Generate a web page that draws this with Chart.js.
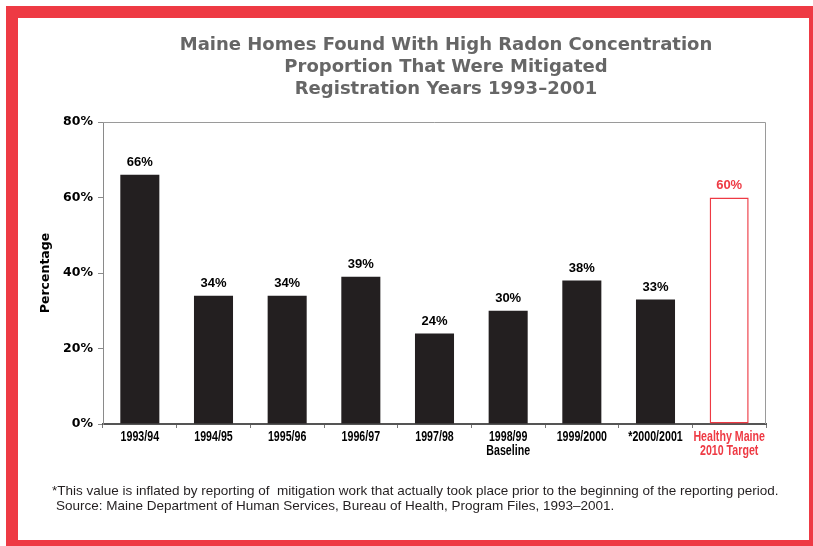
<!DOCTYPE html>
<html>
<head>
<meta charset="utf-8">
<script src="https://cdn.jsdelivr.net/npm/chart.js@4.4.0/dist/chart.umd.min.js"></script>
<style>
html, body { margin:0; padding:0; background:#fff; overflow:hidden; width:813px; height:546px; }
#frame { position:absolute; left:6px; top:6px; width:791px; height:522px; border:12px solid #ee3a44; }
#chart1 { position:absolute; left:0; top:0; }
</style>
</head>
<body>
<div id="frame"></div>
<canvas id="chart1" width="813" height="546"></canvas>
<script>

var years = ['1993/94','1994/95','1995/96','1996/97','1997/98',['1998/99','Baseline'],'1999/2000','*2000/2001'];
var pctMitigated = [66,34,34,39,24,30,38,33];
var targetLabel = ['Healthy Maine','2010 Target'];
var targetPct = 60;
var yTicks = [0,20,40,60,80];

var titleLines = ['Maine Homes Found With High Radon Concentration','Proportion That Were Mitigated','Registration Years 1993\u20132001'];
var noteLines = ['*This value is inflated by reporting of  mitigation work that actually took place prior to the beginning of the reporting period.',
	'Source: Maine Department of Human Services, Bureau of Health, Program Files, 1993\u20132001.'];

var red='#ee3a44';
var barBlack='#231f20';

var labels = years.concat([targetLabel]);
var values = pctMitigated.concat([targetPct]);
var lastIdx = values.length-1;

function isTarget(i) { return i==lastIdx; }

// title + footnote, drawn straight on the canvas
var textPlugin = {
	id: 'texts',
	afterDraw: function(chart) {
		var ctx=chart.ctx;
		ctx.save();
		ctx.fillStyle='#666666';
		ctx.font='bold 18px "DejaVu Sans", sans-serif';
		ctx.textAlign='center';
		ctx.textBaseline='middle';
		for (var i=0;i<titleLines.length;i++) {
			ctx.fillText(titleLines[i],446,45+i*22);
		}
		ctx.fillStyle=barBlack;
		ctx.font='13.5px "Liberation Sans", Arial, sans-serif';
		ctx.textAlign='left';
		ctx.fillText(noteLines[0],52,491);
		ctx.fillText(noteLines[1],56,506);
		ctx.restore();
	}
};

// category labels under the x axis, squeezed like a narrow face
var xLabelPlugin = {
	id: 'xLabels',
	afterDraw: function(chart) {
		var ctx=chart.ctx, xs=chart.scales.x;
		ctx.save();
		ctx.font='bold 14px "Liberation Sans", Arial, sans-serif';
		ctx.textAlign='center';
		ctx.textBaseline='middle';
		labels.forEach(function(lab,i) {
			var lines = Array.isArray(lab) ? lab : [lab];
			var x = xs.getPixelForValue(i);
			ctx.fillStyle = isTarget(i) ? red : '#000';
			for (var k=0;k<lines.length;k++) {
				ctx.save();
				ctx.translate(x, xs.top+13+k*14);
				ctx.scale(0.76,1);
				ctx.fillText(lines[k],0,0);
				ctx.restore();
			}
		});
		ctx.restore();
	}
};

// value above each bar + top/right edges of the plot box
var barLabelPlugin = {
	id: 'barLabels',
	beforeDatasetsDraw: function(chart) {
		var a=chart.chartArea, ctx=chart.ctx;
		ctx.save();
		ctx.strokeStyle='#9a9a9a';
		ctx.lineWidth=1;
		ctx.beginPath();
		ctx.moveTo(a.left,a.top+0.5);
		ctx.lineTo(a.right-0.5,a.top+0.5);
		ctx.lineTo(a.right-0.5,a.bottom);
		ctx.stroke();
		ctx.restore();
	},
	afterDatasetsDraw: function(chart) {
		var ctx=chart.ctx;
		var meta=chart.getDatasetMeta(0);
		ctx.save();
		ctx.font='bold 13px "Liberation Sans", Arial, sans-serif';
		ctx.textAlign='center';
		ctx.textBaseline='middle';
		meta.data.forEach(function(bar,i) {
			ctx.fillStyle = isTarget(i) ? red : '#000';
			ctx.fillText(values[i]+'%',bar.x,bar.y-12);
		});
		ctx.restore();
	}
};

var chart = new Chart(document.getElementById('chart1'), {
	type: 'bar',
	data: {
		labels: labels,
		datasets: [{
			data: values,
			backgroundColor: values.map(function(v,i){ return isTarget(i) ? '#ffffff' : barBlack; }),
			borderColor: values.map(function(v,i){ return isTarget(i) ? red : barBlack; }),
			borderWidth: values.map(function(v,i){ return isTarget(i) ? 1.5 : 0; }),
			borderSkipped: false,
			categoryPercentage: 1,
			barPercentage: 0.53
		}]
	},
	options: {
		responsive: false,
		animation: false,
		layout: { padding: { left:0, top:122, right:47, bottom:72 } },
		plugins: { legend: { display:false }, tooltip: { enabled:false } },
		scales: {
			x: {
				afterFit: function(s) { s.height=50; },
				grid: { drawOnChartArea:false, offset:true, tickLength:4, color:'#777' },
				border: { color:'#555', width:2 },
				ticks: { display:false }
			},
			y: {
				min: 0, max: 80,
				afterFit: function(s) { s.width=103; },
				afterBuildTicks: function(s) { s.ticks = yTicks.map(function(v){ return {value:v}; }); },
				grid: { drawOnChartArea:false, tickLength:5, color:'#8a8a8a' },
				border: { color:'#8a8a8a', width:1 },
				ticks: {
					color:'#000',
					padding: 5,
					font: { family:'"DejaVu Sans", sans-serif', size:12.5, weight:'bold' },
					callback: function(v) { return v+'%'; }
				},
				title: {
					display: true,
					text: 'Percentage',
					color: '#000',
					padding: { top:38, bottom:0 },
					font: { family:'"DejaVu Sans", sans-serif', size:12.5, weight:'bold' }
				}
			}
		}
	},
	plugins: [barLabelPlugin, xLabelPlugin, textPlugin]
});
</script>
</body>
</html>
